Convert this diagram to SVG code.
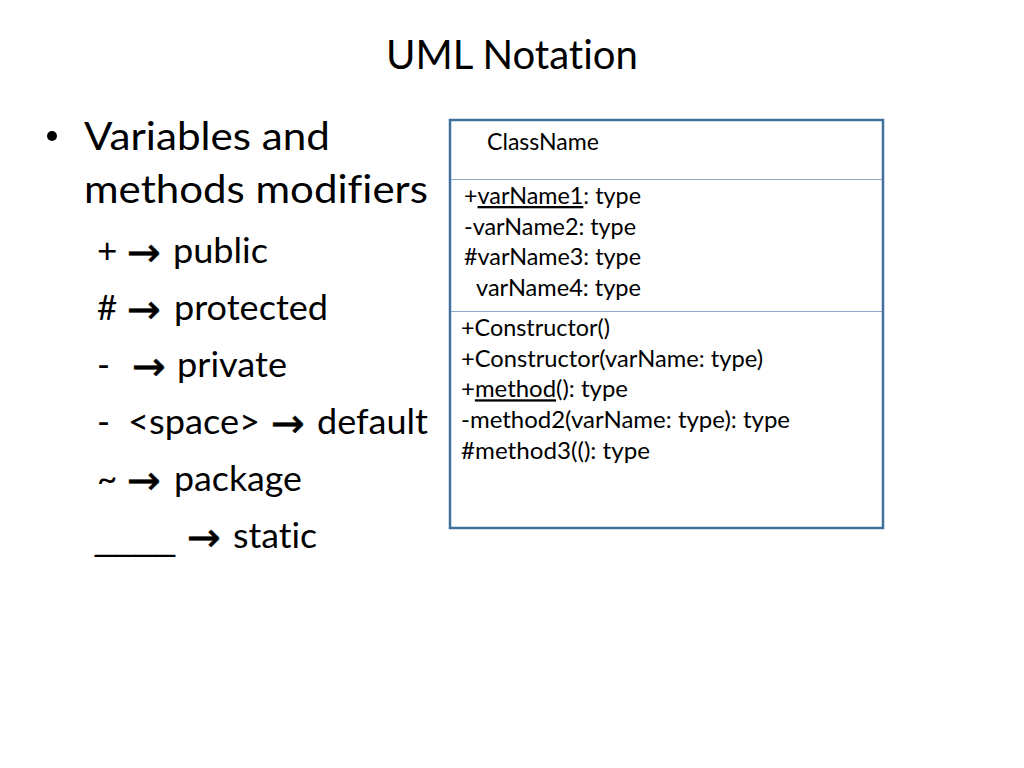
<svg xmlns="http://www.w3.org/2000/svg" width="1024" height="768" viewBox="0 0 1024 768">
<style>
text{font-family:Lato,"Open Sans","Liberation Sans",sans-serif;fill:#000;font-variant-ligatures:none}
.t{font-size:40px}
.b{font-size:38px}
.s{font-size:35px}
.arr{font-family:"DejaVu Sans",sans-serif;font-size:40px;stroke:#000;stroke-width:0.5}
.c{font-size:23px}
.u{text-decoration:underline}
.us{font-family:"Liberation Sans",sans-serif}
</style>
<rect width="1024" height="768" fill="#fff"/>
<text class="t" x="386" y="69" textLength="252" lengthAdjust="spacingAndGlyphs">UML Notation</text>
<g id="bullets">
<circle cx="52" cy="136" r="5"/>
<text class="b" x="84" y="150" textLength="246" lengthAdjust="spacingAndGlyphs">Variables and</text>
<text class="b" x="84" y="203" textLength="344" lengthAdjust="spacingAndGlyphs">methods modifiers</text>
</g>
<g id="item-public">
<text class="s" x="97" y="263">+</text>
<text class="arr" x="127" y="266" textLength="34" lengthAdjust="spacingAndGlyphs">→</text>
<text class="s" x="173" y="263" textLength="95" lengthAdjust="spacingAndGlyphs">public</text>
</g>
<g id="item-protected">
<text class="s" x="97" y="320">#</text>
<text class="arr" x="127" y="323" textLength="34" lengthAdjust="spacingAndGlyphs">→</text>
<text class="s" x="174" y="320" textLength="154" lengthAdjust="spacingAndGlyphs">protected</text>
</g>
<g id="item-private">
<text class="s" x="97" y="377">-</text>
<text class="arr" x="132" y="380" textLength="34" lengthAdjust="spacingAndGlyphs">→</text>
<text class="s" x="177" y="377" textLength="110" lengthAdjust="spacingAndGlyphs">private</text>
</g>
<g id="item-default">
<text class="s" x="97" y="434">-</text>
<text class="s" x="128" y="434" textLength="132" lengthAdjust="spacingAndGlyphs">&lt;space&gt;</text>
<text class="arr" x="271" y="437" textLength="34" lengthAdjust="spacingAndGlyphs">→</text>
<text class="s" x="317" y="434" textLength="111" lengthAdjust="spacingAndGlyphs">default</text>
</g>
<g id="item-package">
<text class="s" x="97" y="491">~</text>
<text class="arr" x="127" y="494" textLength="34" lengthAdjust="spacingAndGlyphs">→</text>
<text class="s" x="174" y="491" textLength="128" lengthAdjust="spacingAndGlyphs">package</text>
</g>
<g id="item-static">
<text class="s us" x="95" y="550" textLength="80" lengthAdjust="spacingAndGlyphs">____</text>
<text class="arr" x="187" y="551" textLength="34" lengthAdjust="spacingAndGlyphs">→</text>
<text class="s" x="233" y="548" textLength="84" lengthAdjust="spacingAndGlyphs">static</text>
</g>
<g id="classbox">
<rect x="450" y="120" width="433" height="408" fill="#fff" stroke="#41719c" stroke-width="2.5"/>
<line x1="451" y1="179.5" x2="882" y2="179.5" stroke="#8aa8c8" stroke-width="1.2"/>
<line x1="451" y1="311.5" x2="882" y2="311.5" stroke="#8aa8c8" stroke-width="1.2"/>
<text class="c" x="487" y="150" textLength="112" lengthAdjust="spacingAndGlyphs">ClassName</text>
<text class="c" x="464" y="204" textLength="177" lengthAdjust="spacingAndGlyphs">+<tspan class="u">varName1</tspan>: type</text>
<text class="c" x="464" y="234.5" textLength="172" lengthAdjust="spacingAndGlyphs">-varName2: type</text>
<text class="c" x="464" y="265" textLength="177" lengthAdjust="spacingAndGlyphs">#varName3: type</text>
<text class="c" x="476" y="295.5" textLength="165" lengthAdjust="spacingAndGlyphs">varName4: type</text>
<text class="c" x="461" y="336" textLength="149" lengthAdjust="spacingAndGlyphs">+Constructor()</text>
<text class="c" x="461" y="366.7" textLength="302" lengthAdjust="spacingAndGlyphs">+Constructor(varName: type)</text>
<text class="c" x="461" y="397.3" textLength="167" lengthAdjust="spacingAndGlyphs">+<tspan class="u">method</tspan>(): type</text>
<text class="c" x="461" y="428.3" textLength="329" lengthAdjust="spacingAndGlyphs">-method2(varName: type): type</text>
<text class="c" x="461" y="458.5" textLength="189" lengthAdjust="spacingAndGlyphs">#method3((): type</text>
</g>
</svg>
